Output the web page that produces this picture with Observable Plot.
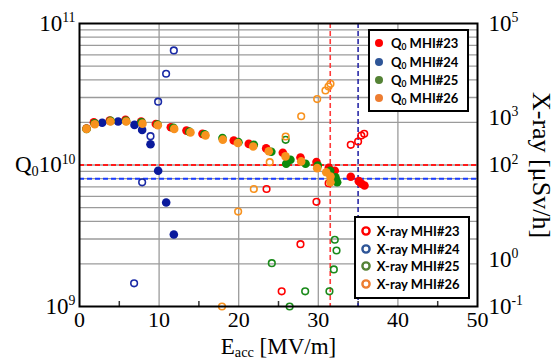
<!DOCTYPE html>
<html><head><meta charset="utf-8">
<script src="https://cdn.jsdelivr.net/npm/d3@7"></script>
<script src="https://cdn.jsdelivr.net/npm/@observablehq/plot@0.6"></script>
<style>
body{margin:0;background:#fff;}
#wrap{position:relative;width:556px;height:363px;overflow:hidden;}
.legend{position:absolute;background:#fff;border:2px solid #000;box-sizing:border-box;font-family:Lato,"Open Sans",sans-serif;font-weight:700;font-size:13px;color:#000;}
.row{position:absolute;height:18px;display:flex;align-items:center;white-space:nowrap;}
.row svg{position:absolute;left:-6px;top:3px;}
.row span{position:absolute;white-space:nowrap;line-height:18px;top:0;}
.row sub{font-size:8.5px;vertical-align:-2px;}
</style></head><body><div id="wrap"></div>
<script>
// ---- data: [Eacc MV/m, value] ----
const q0_23 = [[0.88,1.81e10],[1.8,2.0e10],[3.8,2.06e10],[5.78,2.09e10],[7.75,2.03e10],[9.59,1.95e10],[11.47,1.85e10],[13.44,1.75e10],[15.45,1.66e10],[19.38,1.49e10],[21.27,1.41e10],[23.45,1.31e10],[25.54,1.22e10],[27.76,1.13e10],[29.77,1.05e10],[31.32,9.55e9],[32.07,9.1e9],[34.08,8.26e9],[35.09,7.69e9],[35.43,7.37e9],[35.8,7.16e9]];
const q0_24 = [[2.85,1.99e10],[4.85,2.03e10],[6.91,1.92e10],[7.87,1.77e10],[8.92,1.40e10],[9.88,9.1e9],[10.89,5.43e9],[11.85,3.23e9]];
const q0_25 = [[0.88,1.8e10],[1.9,1.97e10],[3.9,2.05e10],[5.85,2.05e10],[7.8,2.0e10],[9.8,1.93e10],[11.8,1.83e10],[13.8,1.72e10],[15.7,1.65e10],[17.96,1.55e10],[19.97,1.45e10],[21.9,1.39e10],[24.1,1.24e10],[25.97,1.02e10],[26.5,1.09e10],[28.4,1.02e10],[29.94,9.9e9],[31.5,9.1e9],[32.16,8.2e9],[32.37,7.56e9]];
const q0_26 = [[0.88,1.8e10],[1.92,1.94e10],[3.89,2.03e10],[5.87,2.03e10],[7.91,1.96e10],[9.84,1.91e10],[11.9,1.8e10],[13.94,1.70e10],[15.83,1.62e10],[18.0,1.51e10],[19.89,1.43e10],[21.82,1.35e10],[23.78,1.25e10],[25.88,1.15e10],[27.85,1.06e10],[29.86,9.5e9],[31.0,8.89e9],[31.53,8.3e9],[31.53,7.56e9]];
const xr_23 = [[23.5,31],[25.4,0.21],[27.76,2.1],[29.77,16.6],[31.3,41],[34.08,268],[35.0,315],[35.4,422],[35.77,459]];
const xr_24 = [[6.86,0.31],[7.87,43],[8.92,408],[9.88,2200],[10.88,8600],[11.85,26800]];
const xr_25 = [[24.16,0.83],[25.9,342],[26.4,0.1],[28.35,0.21],[31.4,0.21],[31.95,0.61],[32.07,2.6],[32.29,1.54]];
const xr_26 = [[17.9,0.1],[19.93,10.3],[21.9,31],[23.9,115],[25.9,402],[27.85,1080],[29.86,2500],[30.9,3800],[31.28,4600],[31.53,5270]];
const specQ = [1e10, 8e9];          // horizontal dashed limits (Q0)
const specE = [31.5, 35];           // vertical dashed limits (Eacc)
const xTicks = [0,10,20,30,40,50];
const xGrid = [10,20,30,40];
const xMinor = [5,15,25,35,45];
const leftTicks = [1e9,1e10,1e11];
const rightTicks = [0.1,1,10,100,1e3,1e4,1e5];
const legendQ = ["MHI#23","MHI#24","MHI#25","MHI#26"];
const legendColors = ["#ff0000","#2e5597","#548235","#ed7d31"];

const cRed="#ff0000", cBlue="#0a1a9c", cGreen="#0c8a0c", cOrange="#f8921e";
const toQ = v => 10 ** (9 + (Math.log10(v) + 1) / 3);   // right axis (6 decades) -> left axis (2 decades)
const fromQ = q => Math.round((Math.log10(q) - 9) * 3 - 1);
const gridQ = d3.range(2,10).map(k=>k*1e9).concat(d3.range(1,10).map(k=>k*1e10));
const plotH = 363 - 23 - 57;

const openDot = (data, color) => Plot.dot(data, {x: d=>d[0], y: d=>toQ(d[1]), r: 3.3, stroke: color, strokeWidth: 1.6, fill: "none"});
const fillDot = (data, color) => Plot.dot(data, {x: d=>d[0], y: d=>d[1], r: 4.3, fill: color});

const chart = Plot.plot({
  width: 556, height: 363,
  marginLeft: 79, marginRight: 79, marginTop: 23, marginBottom: 57,
  x: {domain: [0,50]},
  y: {type: "log", domain: [1e9,1e11]},
  style: {fontFamily: "'Liberation Serif', serif", fontSize: "23px", background: "white", color: "black", overflow: "visible"},
  marks: [
    Plot.ruleY(gridQ, {stroke: "#9b9b9b", strokeWidth: 1.3}),
    Plot.ruleX(xGrid, {stroke: "#9b9b9b", strokeWidth: 1.3}),
    Plot.ruleX(xMinor, {stroke: "#333", strokeWidth: 1.5, insetTop: plotH - 5}),
    Plot.ruleY(specQ, {stroke: (d,i)=> i===0 ? "#ff1a1a" : "#1a3cff", strokeWidth: 2, strokeDasharray: "5,3"}),
    Plot.ruleX(specE, {stroke: (d,i)=> i===0 ? "#ff3a3a" : "#2a2aa8", strokeWidth: 1.6, strokeDasharray: "5,3"}),
    Plot.axisX(xTicks, {anchor: "bottom", tickSize: 0, tickPadding: 5, fontSize: 22, label: null}),
    Plot.axisY(leftTicks, {anchor: "left", tickSize: 0, tickPadding: 4, fontSize: 23, label: null,
      tickFormat: d => d === 1e10 ? "Q_{0}10^{10}" : "10^{" + Math.round(Math.log10(d)) + "}"}),
    Plot.axisY(rightTicks.map(toQ), {anchor: "right", tickSize: 0, tickPadding: 11, fontSize: 23, label: null,
      tickFormat: q => "10^{" + fromQ(q) + "}"}),
    Plot.text(["E_{acc} [MV/m]"], {text: d=>d, frameAnchor: "bottom", dy: 47, fontSize: 23}),
    Plot.text(["X-ray [μSv/h]"], {text: d=>d, frameAnchor: "right", dx: 64, rotate: 90, textAnchor: "middle", fontSize: 26}),
    openDot(xr_23, cRed), openDot(xr_24, "#1a2aa6"), openDot(xr_25, "#1a8a1a"), openDot(xr_26, "#f8921e"),
    fillDot(q0_23, cRed), fillDot(q0_24, cBlue), fillDot(q0_25, cGreen), fillDot(q0_26, cOrange),
    Plot.frame({stroke: "black", strokeWidth: 2})
  ]
});
const wrap = document.getElementById("wrap");
wrap.appendChild(chart);

// rich text: ^{..} superscript, _{..} subscript
d3.select(chart).selectAll("text").each(function(){
  const t = this.textContent;
  if (!/[_^]\{/.test(t)) return;
  const fs = parseFloat(getComputedStyle(this).fontSize) || 23;
  const parts = t.split(/([_^]\{[^}]*\})/).filter(s => s.length);
  this.textContent = "";
  let cur = 0;
  for (const p of parts) {
    let txt = p, off = 0, size = null;
    if (p.startsWith("^{")) { txt = p.slice(2,-1); off = -0.38*fs; size = 0.6*fs; }
    else if (p.startsWith("_{")) { txt = p.slice(2,-1); off = 0.15*fs; size = 0.62*fs; }
    const ts = document.createElementNS("http://www.w3.org/2000/svg","tspan");
    ts.textContent = txt;
    if (off - cur !== 0) ts.setAttribute("dy", (off - cur).toFixed(2));
    if (size) ts.setAttribute("font-size", size.toFixed(1));
    cur = off;
    this.appendChild(ts);
  }
});

// legends (overlay inside plot area)
function legend(left, top, w, h, rows, markerX, textX, open, label) {
  const box = document.createElement("div");
  box.className = "legend";
  Object.assign(box.style, {left: left+"px", top: top+"px", width: w+"px", height: h+"px"});
  rows.forEach((cy, i) => {
    const r = document.createElement("div");
    r.className = "row";
    Object.assign(r.style, {left: "0px", top: (cy - 9 - 2) + "px", width: (w-4)+"px"});
    const c = legendColors[i];
    r.innerHTML = `<svg width="12" height="12" style="left:${markerX-2-6}px">` +
      (open ? `<circle cx="6" cy="6" r="3.6" fill="none" stroke="${c}" stroke-width="2.4"/>`
            : `<circle cx="6" cy="6" r="4" fill="${c}"/>`) +
      `</svg><span style="left:${textX-2}px">${label(legendQ[i])}</span>`;
    box.appendChild(r);
  });
  wrap.appendChild(box);
}
legend(367.5, 29, 101, 82.5, [14.3, 32.5, 50.5, 68.7], 11.5, 23.5, false, n => `Q<sub>0</sub> ${n}`);
legend(354, 216, 115.5, 82.5, [14.7, 32.7, 50.3, 68.3], 11.7, 22.7, true, n => `X-ray ${n}`);
</script></body></html>
